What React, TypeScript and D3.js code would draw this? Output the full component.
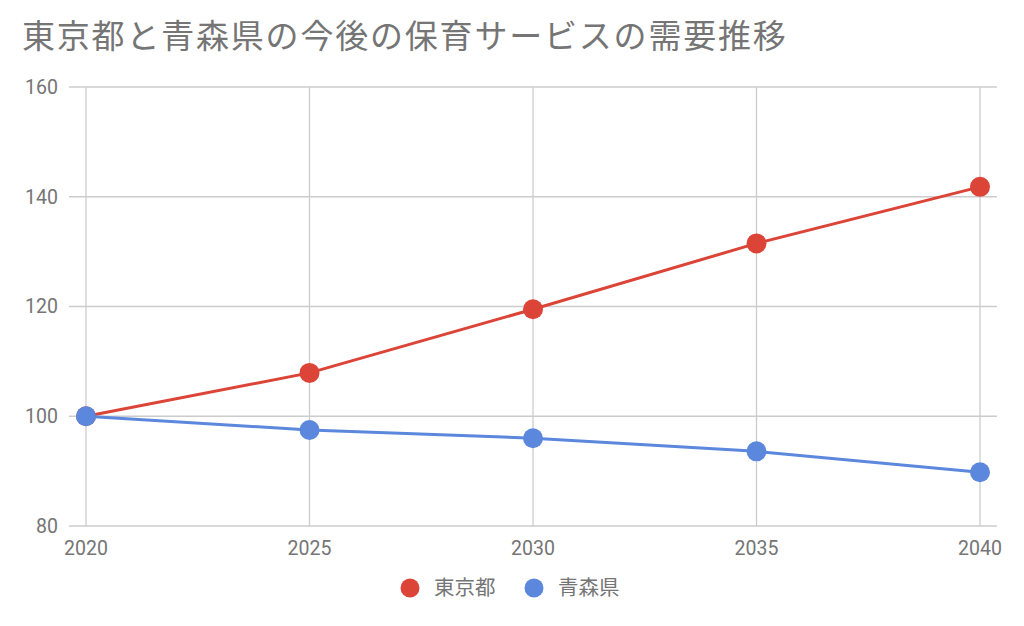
import * as d3 from 'd3';

const years = [2020, 2025, 2030, 2035, 2040];
const tokyo = [100, 107.9, 119.5, 131.5, 141.8];
const aomori = [100, 97.5, 96, 93.6, 89.8];
const yTicks = [80, 100, 120, 140, 160];
const seriesNames = ['東京都', '青森県'];
const seriesColors = ['#db4437', '#5b87dd'];

const W = 1024;
const H = 626;
const margin = { top: 87, right: 44, bottom: 100, left: 86 };
const font = "Roboto, 'Noto Sans CJK JP', sans-serif";
const cjk = "'Noto Sans CJK JP', Roboto, sans-serif";

const App = () => {
  const x = d3.scaleLinear()
    .domain([2020, 2040])
    .range([margin.left, W - margin.right]);
  const y = d3.scaleLinear()
    .domain([80, 160])
    .range([H - margin.bottom, margin.top]);

  const line = d3.line<number>()
    .x((d, i) => x(years[i]))
    .y(d => y(d));

  const series = [tokyo, aomori];

  return (
    <svg width={W} height={H} style={{ position: 'absolute', left: 0, top: 0 }}>
      <rect width={W} height={H} fill="#fff" />
      <text x={22} y={48} fontFamily={cjk} fontSize={33} fill="#757575" letterSpacing={1.8}>
        東京都と青森県の今後の保育サービスの需要推移
      </text>

      {yTicks.map(t => (
        <g key={t}>
          <line x1={69} x2={997} y1={y(t)} y2={y(t)} stroke="#cccccc" strokeWidth={1.3} />
          <text x={58} y={y(t)} dy="0.35em" textAnchor="end" fontFamily={font} fontSize={19.5} fill="#757575">
            {t}
          </text>
        </g>
      ))}

      {years.map(yr => (
        <g key={yr}>
          <line x1={x(yr)} x2={x(yr)} y1={y(160)} y2={y(80)} stroke="#cccccc" strokeWidth={1.3} />
          <text x={x(yr)} y={548} dy="0.35em" textAnchor="middle" fontFamily={font} fontSize={19.5} fill="#757575">
            {yr}
          </text>
        </g>
      ))}

      {series.map((s, k) => (
        <g key={k}>
          <path d={line(s) ?? ''} fill="none" stroke={seriesColors[k]} strokeWidth={3} />
          {s.map((v, i) => (
            <circle key={i} cx={x(years[i])} cy={y(v)} r={10} fill={seriesColors[k]} />
          ))}
        </g>
      ))}

      {seriesNames.map((n, k) => {
        const lx = [410, 534][k];
        return (
          <g key={n}>
            <circle cx={lx} cy={588} r={9.5} fill={seriesColors[k]} />
            <text x={lx + 24} y={588} dy="0.35em" fontFamily={cjk} fontSize={20.5} fill="#757575">
              {n}
            </text>
          </g>
        );
      })}
    </svg>
  );
};

export default App;
